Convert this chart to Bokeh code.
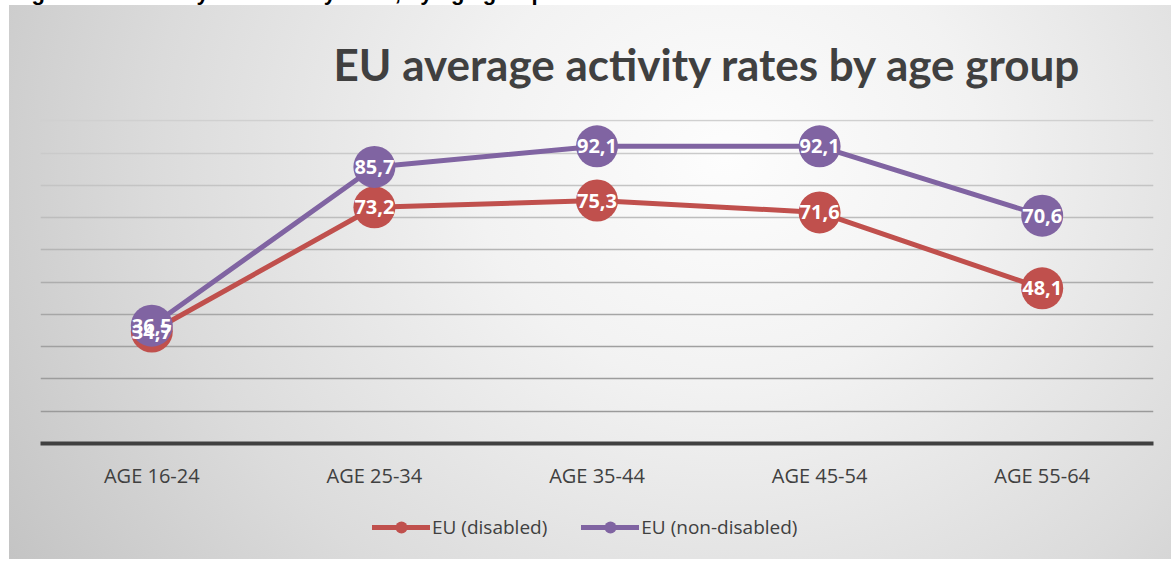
from bokeh.plotting import figure
from bokeh.models import (ColumnDataSource, FactorRange, Range1d, Grid, FixedTicker,
                          Legend, LegendItem, Div)
from bokeh.layouts import column
from bokeh.core.properties import value
from bokeh.embed import file_html
from bokeh.resources import INLINE

# ---- data ----
categories = ["AGE 16-24", "AGE 25-34", "AGE 35-44", "AGE 45-54", "AGE 55-64"]
disabled = [34.7, 73.2, 75.3, 71.6, 48.1]
non_disabled = [36.5, 85.7, 92.1, 92.1, 70.6]
grid_ticks = [10, 20, 30, 40, 50, 60, 70, 80, 90, 100]
series_names = ["EU (disabled)", "EU (non-disabled)"]
chart_title = "EU average activity rates by age group"
figure_caption = "Figure 5: Disability and activity rates, by age group"


def fmt(v):
    return f"{v:.1f}".replace(".", ",")


src_d = ColumnDataSource(dict(x=categories, y=disabled, lab=[fmt(v) for v in disabled]))
src_n = ColumnDataSource(dict(x=categories, y=non_disabled, lab=[fmt(v) for v in non_disabled]))

RED = "#C0504D"
PURPLE = "#8064A2"
DARK = "#404040"

bg = ("linear-gradient(to bottom, #ffffff 5px, rgba(255,255,255,0) 5px), "
      "linear-gradient(to right, #ffffff 9px, rgba(255,255,255,0) 9px), "
      "linear-gradient(to top, #ffffff 2px, rgba(255,255,255,0) 2px), "
      "radial-gradient(ellipse 72% 135% at 62% 28%, #fdfdfd 0%, #f2f2f2 30%, "
      "#dbdbdb 68%, #c4c4c4 100%)")

# ---- main chart ----
p = figure(width=1171, height=500, x_range=FactorRange(factors=categories),
           y_range=Range1d(0, 100.4), output_backend="svg", toolbar_location=None,
           y_axis_location=None, min_border_left=40, min_border_right=18,
           min_border_top=112, min_border_bottom=62, margin=0)
p.border_fill_color = None
p.background_fill_color = None
p.outline_line_color = None
p.xgrid.visible = False
p.ygrid.visible = False

grid_colors = ["#9a9a9a", "#9c9c9c", "#a0a0a0", "#a6a6a6", "#adadad",
               "#b5b5b5", "#bdbdbd", "#c4c4c4", "#cacaca", "#d0d0d0"]
for t, c in zip(grid_ticks, grid_colors):
    p.add_layout(Grid(dimension=1, ticker=FixedTicker(ticks=[t]),
                      grid_line_color=c, grid_line_width=1.5))

p.title.text = chart_title
p.title.text_font = "Lato"
p.title.text_font_style = "bold"
p.title.text_font_size = "44px"
p.title.text_color = DARK
p.title.align = "left"
p.title.offset = 293
p.title.standoff = 60

ax = p.xaxis[0]
ax.axis_line_color = DARK
ax.axis_line_width = 4
ax.major_tick_line_color = None
ax.minor_tick_line_color = None
ax.major_label_text_font = "Open Sans"
ax.major_label_text_font_size = "20px"
ax.major_label_text_color = DARK
ax.major_label_standoff = 12

p.line("x", "y", source=src_d, line_color=RED, line_width=5,
       line_join="round", line_cap="round")
p.scatter("x", "y", source=src_d, size=42, fill_color=RED, line_color=None)
p.line("x", "y", source=src_n, line_color=PURPLE, line_width=5,
       line_join="round", line_cap="round")
p.scatter("x", "y", source=src_n, size=42, fill_color=PURPLE, line_color=None)

for s in (src_d, src_n):
    p.text("x", "y", text="lab", source=s, text_color="white",
           text_font=value("Open Sans"), text_font_style="bold",
           text_font_size="20px", text_align="center", text_baseline="middle")

# ---- legend strip (hidden copies of the series supply the legend glyphs) ----
lf = figure(width=1171, height=56, x_range=FactorRange(factors=categories),
            y_range=Range1d(0, 100), output_backend="svg", toolbar_location=None,
            x_axis_location=None, y_axis_location=None, min_border=0,
            min_border_left=0, min_border_right=0, min_border_top=0,
            min_border_bottom=0, margin=0)
lf.border_fill_color = None
lf.background_fill_color = None
lf.outline_line_color = None
lf.grid.visible = False
lgd_l = lf.line("x", "y", source=src_d, line_color=RED, line_width=5,
                line_cap="round", visible=False)
lgd_s = lf.scatter("x", "y", source=src_d, size=11, fill_color=RED,
                   line_color=None, visible=False)
lgn_l = lf.line("x", "y", source=src_n, line_color=PURPLE, line_width=5,
                line_cap="round", visible=False)
lgn_s = lf.scatter("x", "y", source=src_n, size=11, fill_color=PURPLE,
                   line_color=None, visible=False)

legend = Legend(items=[LegendItem(label=series_names[0], renderers=[lgd_l, lgd_s]),
                       LegendItem(label=series_names[1], renderers=[lgn_l, lgn_s])],
                orientation="horizontal", location=(332, 19),
                background_fill_alpha=0, border_line_color=None,
                label_text_font="Open Sans", label_text_font_size="19px",
                label_text_color=DARK, glyph_width=58, glyph_height=30,
                label_standoff=2, spacing=34, padding=0, margin=0)
lf.add_layout(legend, "center")

cap = Div(text=("<div style=\"position:relative;top:-18px;left:12px;font-family:'Liberation Sans';"
                "font-weight:bold;font-size:22px;line-height:22px;white-space:nowrap;"
                "color:#000\">" + figure_caption + "</div>"),
          width=1171, height=5, margin=0, styles={"overflow": "hidden"})

layout = column(cap, p, lf, spacing=0, margin=0, styles={"background": bg})

open("out.html", "w").write(file_html(layout, INLINE))
